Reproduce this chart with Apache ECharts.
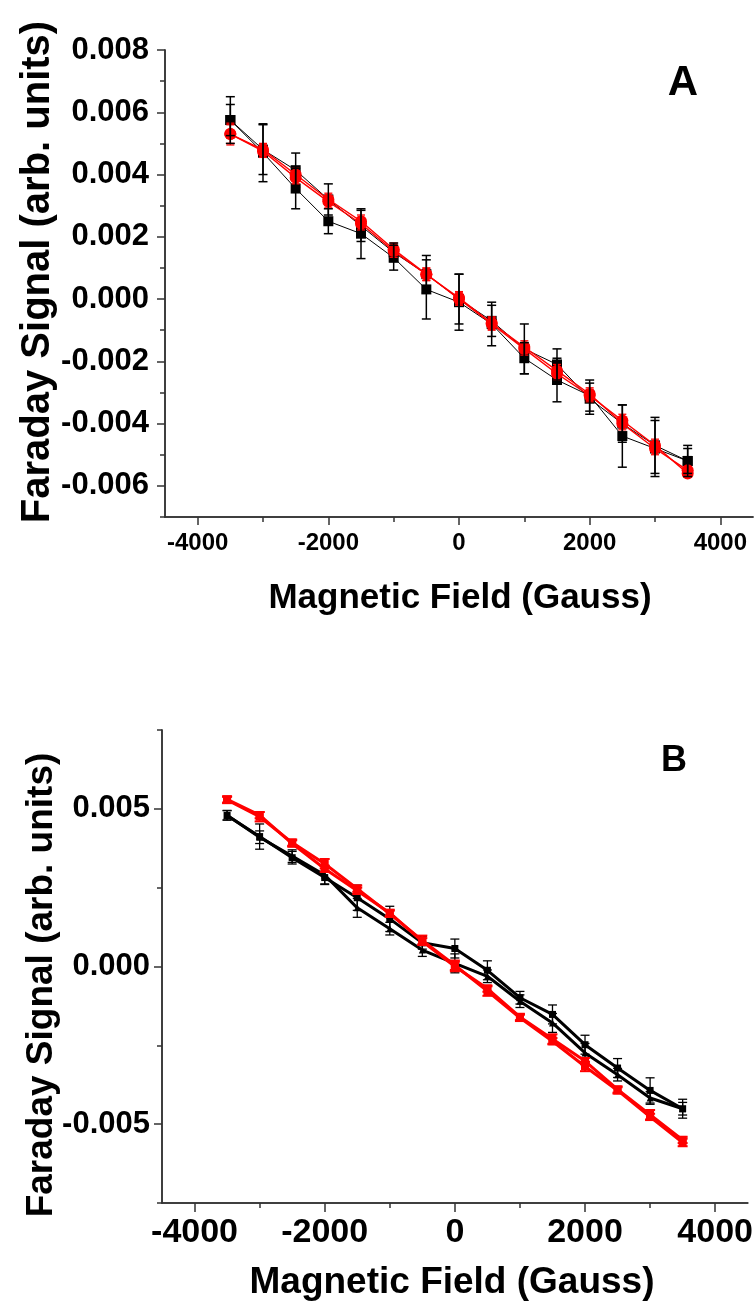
<!DOCTYPE html>
<html>
<head>
<meta charset="utf-8">
<script src="https://cdn.jsdelivr.net/npm/echarts@6/dist/echarts.min.js"></script>
<style>
  html, body { margin: 0; padding: 0; background: #ffffff; }
  #chart { width: 756px; height: 1306px; }
</style>
</head>
<body>
<div id="chart"></div>
<script>
// Applied magnetic field (Gauss) for every measurement
const fieldGauss = [-3500, -3000, -2500, -2000, -1500, -1000, -500, 0, 500, 1000, 1500, 2000, 2500, 3000, 3500];

// Panel A: two black (square) runs and two red (circle) runs with standard errors
const aBlack1    = [0.00575, 0.0047, 0.00355, 0.0025, 0.0021, 0.00133, 0.00031, -0.0001, -0.0008, -0.0019, -0.0026, -0.0031, -0.0044, -0.0048, -0.0052];
const aBlack1Err = [0.00075, 0.00093, 0.00065, 0.0004, 0.0008, 0.0004, 0.00095, 0.0009, 0.0007, 0.0005, 0.0007, 0.0005, 0.001, 0.0009, 0.0005];
const aBlack2    = [0.00575, 0.0048, 0.00414, 0.0032, 0.00235, 0.0015, 0.0008, 0.0000, -0.0007, -0.0016, -0.0021, -0.0032, -0.0040, -0.0047, -0.0052];
const aBlack2Err = [0.0005, 0.0008, 0.00055, 0.0005, 0.0005, 0.0003, 0.0006, 0.0008, 0.0005, 0.0008, 0.0005, 0.0005, 0.0006, 0.0009, 0.0004];
const aRed1      = [0.0053, 0.00475, 0.0039, 0.00313, 0.00242, 0.00154, 0.00079, 0.00004, -0.00077, -0.00154, -0.0023, -0.00305, -0.0040, -0.0048, -0.0055];
const aRed1Err   = [0.00035, 0.0002, 0.0002, 0.0002, 0.0002, 0.0002, 0.0002, 0.0002, 0.0002, 0.0002, 0.0002, 0.0002, 0.0002, 0.0002, 0.0001];
const aRed2      = [0.0053, 0.0048, 0.0040, 0.0032, 0.0025, 0.0016, 0.0008, 0.0000, -0.0008, -0.0016, -0.0024, -0.0031, -0.0039, -0.0047, -0.0056];
const aRed2Err   = [0.0003, 0.0002, 0.0002, 0.0002, 0.0002, 0.0002, 0.0002, 0.0002, 0.0002, 0.0002, 0.0002, 0.0002, 0.0002, 0.0002, 0.0001];

// Panel B: two black runs and two red runs with standard errors
const bBlack1    = [0.00479, 0.00412, 0.00345, 0.00282, 0.00218, 0.00151, 0.00075, 0.00057, -0.00012, -0.00099, -0.00152, -0.00248, -0.00322, -0.00393, -0.00451];
const bBlack1Err = [0.00015, 0.0004, 0.0002, 0.0002, 0.0004, 0.0004, 0.0002, 0.0003, 0.0003, 0.0002, 0.0003, 0.0003, 0.0003, 0.0004, 0.0002];
const bBlack2    = [0.0048, 0.0041, 0.0035, 0.0029, 0.00186, 0.0012, 0.00052, 0.0001, -0.00031, -0.0011, -0.00179, -0.00274, -0.00343, -0.00417, -0.00451];
const bBlack2Err = [0.00015, 0.0002, 0.0002, 0.0003, 0.0003, 0.0002, 0.0002, 0.0003, 0.0002, 0.0002, 0.0003, 0.0003, 0.0002, 0.0002, 0.0003];
const bRed1      = [0.00528, 0.00475, 0.00393, 0.00326, 0.00247, 0.00167, 0.00083, 0.00004, -0.00078, -0.00163, -0.00237, -0.00317, -0.00393, -0.00477, -0.00558];
const bRed1Err   = [0.0001, 0.00015, 0.0001, 0.00015, 0.0001, 0.0001, 0.00015, 0.00015, 0.00015, 0.0001, 0.0001, 0.00015, 0.0001, 0.0001, 0.00012];
const bRed2      = [0.0053, 0.0048, 0.0039, 0.0031, 0.0024, 0.0017, 0.0008, 0.0000, -0.0007, -0.0016, -0.0023, -0.0030, -0.0039, -0.0047, -0.0055];
const bRed2Err   = [0.0001, 0.0001, 0.0001, 0.0001, 0.0001, 0.0001, 0.0001, 0.00015, 0.0001, 0.0001, 0.00015, 0.0001, 0.0001, 0.00015, 0.0001];

// Tick positions
const fieldMajorTicks = [-4000, -2000, 0, 2000, 4000];
const fieldMinorTicks = [-3000, -1000, 1000, 3000];
const aSignalMajorTicks = [-0.006, -0.004, -0.002, 0, 0.002, 0.004, 0.006, 0.008];
const aSignalMinorTicks = [-0.007, -0.005, -0.003, -0.001, 0.001, 0.003, 0.005, 0.007];
const bSignalMajorTicks = [-0.005, 0, 0.005];
const bSignalMinorTicks = [-0.0075, -0.0025, 0.0025, 0.0075];

const FONT = '"Liberation Sans", Arial, Helvetica, sans-serif';
const AXIS_COLOR = '#333333';
const RED = '#ff0000';
const BLACK = '#000000';

function pairs(ys) { return fieldGauss.map((x, i) => [x, ys[i]]); }
function triples(ys, errs) { return fieldGauss.map((x, i) => [x, ys[i], errs[i]]); }

// Build a pair of overlaid axes: one with long major ticks and labels, one with short minor ticks
function axisPair(kind, gridIndex, min, max, majors, minors, o) {
  const position = kind === 'x' ? 'bottom' : 'left';
  const base = {
    type: 'value', gridIndex, min, max, position,
    splitLine: { show: false },
    axisLine: { show: true, onZero: false, lineStyle: { color: AXIS_COLOR, width: 1.5 } }
  };
  const major = Object.assign({}, base, {
    axisTick: { show: true, customValues: majors, length: o.majorLen, inside: false,
                lineStyle: { color: AXIS_COLOR, width: 1.5 } },
    axisLabel: { show: true, customValues: majors, formatter: o.fmt, margin: o.margin,
                 fontFamily: FONT, fontWeight: 'bold', fontSize: o.fontSize, color: '#000' }
  });
  const minor = Object.assign({}, base, {
    axisTick: { show: true, customValues: minors, length: o.minorLen, inside: false,
                lineStyle: { color: AXIS_COLOR, width: 1.5 } },
    axisLabel: { show: false }
  });
  return [major, minor];
}

const fmtField = v => String(Math.round(v));
const fmtSignal = v => (Math.abs(v) < 1e-12 ? 0 : v).toFixed(3);

// Grid 0 (panel A) uses axes 0 (major, carries data) and 1 (minor ticks);
// grid 1 (panel B) uses axes 2 (major, carries data) and 3 (minor ticks)
const xAxes = [
  ...axisPair('x', 0, -4500, 4500, fieldMajorTicks, fieldMinorTicks,
              { majorLen: 8, minorLen: 5, fmt: fmtField, margin: 14, fontSize: 24 }),
  ...axisPair('x', 1, -4500, 4500, fieldMajorTicks, fieldMinorTicks,
              { majorLen: 9, minorLen: 5, fmt: fmtField, margin: 13, fontSize: 34 })
];
const yAxes = [
  ...axisPair('y', 0, -0.007, 0.008, aSignalMajorTicks, aSignalMinorTicks,
              { majorLen: 8, minorLen: 5, fmt: fmtSignal, margin: 16, fontSize: 31 }),
  ...axisPair('y', 1, -0.0075, 0.0075, bSignalMajorTicks, bSignalMinorTicks,
              { majorLen: 8, minorLen: 5, fmt: fmtSignal, margin: 12, fontSize: 31 })
];

// Vertical error bars with caps, placed through the axis scales
function errorBarRenderer(color, capWidth, lineWidth) {
  return function (params, api) {
    const x = api.value(0), y = api.value(1), e = api.value(2);
    const hi = api.coord([x, y + e]);
    const lo = api.coord([x, y - e]);
    const h = capWidth / 2;
    const style = { stroke: color, lineWidth: lineWidth };
    return {
      type: 'group',
      children: [
        { type: 'line', shape: { x1: hi[0], y1: hi[1], x2: lo[0], y2: lo[1] }, style },
        { type: 'line', shape: { x1: hi[0] - h, y1: hi[1], x2: hi[0] + h, y2: hi[1] }, style },
        { type: 'line', shape: { x1: lo[0] - h, y1: lo[1], x2: lo[0] + h, y2: lo[1] }, style }
      ]
    };
  };
}

function errSeries(axisIdx, ys, errs, color, cap, width, z) {
  return {
    type: 'custom', xAxisIndex: axisIdx, yAxisIndex: axisIdx,
    data: triples(ys, errs), encode: { x: 0, y: 1 },
    renderItem: errorBarRenderer(color, cap, width), z: z, silent: true
  };
}

function lineSeries(axisIdx, ys, color, symbol, size, width, z) {
  return {
    type: 'line', xAxisIndex: axisIdx, yAxisIndex: axisIdx,
    data: pairs(ys), symbol: symbol, symbolSize: size, showSymbol: true,
    lineStyle: { color: color, width: width },
    itemStyle: { color: color, borderWidth: 0 },
    z: z, silent: true
  };
}

const series = [
  // Panel A
  lineSeries(0, aBlack1, BLACK, 'rect', 10, 1, 3),
  lineSeries(0, aBlack2, BLACK, 'rect', 10, 1, 3),
  lineSeries(0, aRed1, RED, 'circle', 12, 1.4, 4),
  lineSeries(0, aRed2, RED, 'circle', 12, 1.4, 4),
  errSeries(0, aRed1, aRed1Err, RED, 8, 1.3, 5),
  errSeries(0, aRed2, aRed2Err, RED, 8, 1.3, 5),
  errSeries(0, aBlack1, aBlack1Err, BLACK, 9, 1.5, 6),
  errSeries(0, aBlack2, aBlack2Err, BLACK, 9, 1.5, 6),
  // Panel B
  lineSeries(2, bBlack1, BLACK, 'rect', 7, 3, 3),
  lineSeries(2, bBlack2, BLACK, 'triangle', 7, 3, 3),
  errSeries(2, bBlack1, bBlack1Err, BLACK, 9, 1.3, 4),
  errSeries(2, bBlack2, bBlack2Err, BLACK, 9, 1.3, 4),
  lineSeries(2, bRed1, RED, 'rect', 8, 3, 5),
  lineSeries(2, bRed2, RED, 'rect', 8, 3, 5),
  errSeries(2, bRed1, bRed1Err, RED, 10, 2, 6),
  errSeries(2, bRed2, bRed2Err, RED, 10, 2, 6)
];

const titleFont = size => 'bold ' + size + 'px ' + FONT;

const option = {
  animation: false,
  backgroundColor: '#ffffff',
  grid: [
    { left: 165, top: 50, width: 588, height: 467, containLabel: false },
    { left: 162, top: 730, width: 586, height: 473, containLabel: false }
  ],
  xAxis: xAxes,
  yAxis: yAxes,
  series: series,
  graphic: [
    { type: 'text', x: 460, y: 598, style: { text: 'Magnetic Field (Gauss)', font: titleFont(35), fill: '#000', align: 'center', verticalAlign: 'middle' } },
    { type: 'text', x: 452, y: 1283, style: { text: 'Magnetic Field (Gauss)', font: titleFont(37), fill: '#000', align: 'center', verticalAlign: 'middle' } },
    { type: 'text', x: 38, y: 272, rotation: Math.PI / 2, style: { text: 'Faraday Signal (arb. units)', font: titleFont(40), fill: '#000', align: 'center', verticalAlign: 'middle' } },
    { type: 'text', x: 42, y: 985, rotation: Math.PI / 2, style: { text: 'Faraday Signal (arb. units)', font: titleFont(37), fill: '#000', align: 'center', verticalAlign: 'middle' } },
    { type: 'text', x: 683, y: 83, style: { text: 'A', font: titleFont(42), fill: '#000', align: 'center', verticalAlign: 'middle' } },
    { type: 'text', x: 674, y: 761, style: { text: 'B', font: titleFont(36), fill: '#000', align: 'center', verticalAlign: 'middle' } }
  ]
};

const chart = echarts.init(document.getElementById('chart'), null, { renderer: 'canvas', width: 756, height: 1306 });
chart.setOption(option);
</script>
</body>
</html>
